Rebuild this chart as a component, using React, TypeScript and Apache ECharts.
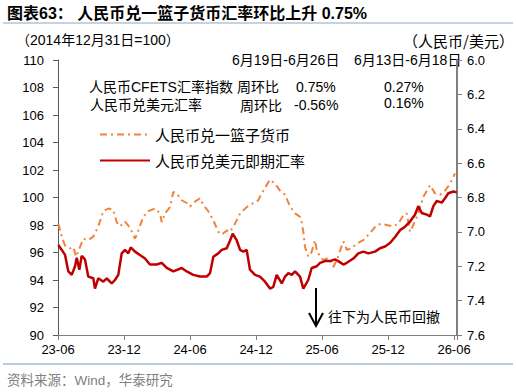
import React, { useEffect, useRef } from "react";
import * as echarts from "echarts";

// x positions are months since 2023-06-01
const xTickLabels = ["23-06", "23-12", "24-06", "24-12", "25-06", "25-12", "26-06"];

const basketT = [0.03,0.34,0.64,1.09,1.39,1.64,2.0,2.3,2.75,3.21,3.66,4.12,4.57,5.03,5.34,5.64,6.09,6.55,7.0,7.3,7.75,8.21,8.82,9.27,9.43,9.73,10.18,10.48,10.79,11.25,11.7,12.0,12.45,12.91,13.21,13.66,14.12,14.57,14.88,15.34,15.64,16.09,16.55,17.15,17.75,18.21,18.52,18.97,19.27,19.73,20.18,20.64,21.09,21.55,22.0,22.15,22.3,22.45,22.75,23.06,23.36,23.52,23.82,24.12,24.57,25.03,25.34,25.94,26.25,26.7,27.15,27.75,28.36,28.97,29.43,29.88,30.48,30.94,31.39,31.7,32.0,32.3,32.75,33.21,33.82,34.27,34.73,35.18,35.64,36.09];
const basketIdx = [98.1,97.15,96.5,96.3,96.4,95.7,96.4,97.0,96.9,97.15,97.9,99.0,99.2,99.1,98.2,97.9,98.25,97.8,97.0,97.6,98.6,99.0,99.2,98.85,98.2,98.85,99.3,100.4,100.3,99.8,99.6,99.35,99.7,99.95,99.45,99.0,98.35,97.5,97.3,97.6,97.5,98.1,98.85,99.3,99.6,99.8,100.3,100.9,101.3,101.0,100.5,100.2,99.35,98.85,98.6,98.2,97.5,96.4,95.7,96.05,96.9,96.2,95.7,95.45,95.6,94.95,95.45,96.8,96.2,96.3,96.65,96.9,97.4,98.0,98.1,98.0,97.9,98.1,98.7,98.85,97.5,98.0,98.85,100.05,100.9,100.3,100.2,100.5,101.0,101.75];

const usdT = [0.03,0.34,0.64,0.94,1.25,1.55,1.7,1.94,2.15,2.45,2.75,3.21,3.36,3.66,4.12,4.43,4.88,5.18,5.48,5.79,6.09,6.39,6.61,7.0,7.45,7.91,8.36,8.97,9.43,9.88,10.48,11.25,11.7,12.3,12.91,13.52,13.82,14.12,14.57,14.88,15.34,15.64,15.88,16.25,16.55,16.85,17.15,17.45,17.91,18.36,18.82,19.27,19.57,19.88,20.34,20.64,20.94,21.25,21.55,22.0,22.3,22.75,23.06,23.52,23.82,24.27,24.73,25.18,25.48,25.94,26.25,26.85,27.3,27.75,28.21,28.82,29.27,29.73,30.18,30.64,31.09,31.55,32.0,32.45,32.75,33.06,33.52,33.82,34.12,34.43,34.88,35.18,35.48,35.94,36.25];
const usdCny = [7.076,7.105,7.134,7.23,7.25,7.2,7.15,7.22,7.14,7.16,7.26,7.27,7.33,7.27,7.29,7.27,7.3,7.28,7.25,7.125,7.105,7.125,7.09,7.115,7.135,7.155,7.19,7.19,7.18,7.21,7.23,7.21,7.23,7.25,7.26,7.26,7.24,7.145,7.125,7.105,7.095,7.05,7.01,7.05,7.105,7.115,7.105,7.22,7.25,7.26,7.29,7.33,7.32,7.25,7.3,7.26,7.24,7.25,7.23,7.26,7.33,7.28,7.21,7.2,7.18,7.17,7.17,7.16,7.17,7.19,7.18,7.155,7.125,7.115,7.125,7.115,7.095,7.085,7.065,7.03,6.99,6.97,6.94,6.9,6.85,6.89,6.9,6.91,6.85,6.82,6.83,6.805,6.775,6.765,6.77];

const seriesNames = ["人民币兑一篮子货币", "人民币兑美元即期汇率"];
const periodLabels = ["6月19日-6月26日", "6月13日-6月18日"];
const rowLabels = ["人民币CFETS汇率指数", "人民币兑美元汇率"];
const rowMetric = "周环比";
const thisWeek = ["0.75%", "-0.56%"];
const lastWeek = ["0.27%", "0.16%"];

const FONT = "'Liberation Sans', 'Noto Sans CJK SC', sans-serif";
const CJK = "'Noto Sans CJK SC', 'Liberation Sans', sans-serif";

function txt(text: string, x: number, y: number, opts: any = {}) {
  return {
    type: "text",
    x,
    y,
    silent: true,
    style: {
      text,
      fill: opts.fill || "#000",
      fontSize: opts.fontSize || 13,
      fontFamily: opts.fontFamily || FONT,
      fontWeight: opts.fontWeight || "normal",
      align: opts.align || "left",
      verticalAlign: "middle",
    },
  };
}

export default function App() {
  const ref = useRef<HTMLDivElement>(null);
  useEffect(() => {
    if (!ref.current) return;
    const chart = echarts.init(ref.current, null, { renderer: "svg" });
    const basketData = basketT.map((t, i) => [t, basketIdx[i]]);
    const usdData = usdT.map((t, i) => [t, usdCny[i]]);
    chart.setOption({
      animation: false,
      backgroundColor: "#fff",
      grid: { left: 58, right: 59, top: 60, bottom: 57, containLabel: false },
      legend: {
        orient: "vertical",
        left: 94,
        top: 122,
        itemWidth: 50,
        itemHeight: 14,
        itemGap: 11,
        itemStyle: { opacity: 0 },
        textStyle: { fontSize: 15, fontFamily: CJK, color: "#000" },
        data: seriesNames,
      },
      xAxis: {
        type: "value",
        min: 0,
        max: 36.27,
        interval: 6,
        axisLine: { lineStyle: { color: "#7f7f7f", width: 1 } },
        axisTick: { length: 5, lineStyle: { color: "#7f7f7f" } },
        axisLabel: {
          fontSize: 13,
          fontFamily: FONT,
          color: "#000",
          margin: 8,
          formatter: (v: number) => {
            const k = Math.round(v / 6);
            return Math.abs(v - k * 6) < 1e-6 ? xTickLabels[k] || "" : "";
          },
        },
        splitLine: { show: false },
      },
      yAxis: [
        {
          type: "value",
          min: 90,
          max: 110,
          interval: 2,
          position: "left",
          axisLine: { show: true, lineStyle: { color: "#595959", width: 1 } },
          axisTick: { show: true, length: 5, lineStyle: { color: "#595959" } },
          axisLabel: { fontSize: 13, fontFamily: FONT, color: "#000", margin: 14 },
          splitLine: { show: false },
        },
        {
          type: "value",
          min: 6,
          max: 7.6,
          interval: 0.2,
          inverse: true,
          position: "right",
          axisLine: { show: true, lineStyle: { color: "#808080", width: 2 } },
          axisTick: { show: true, length: 5, lineStyle: { color: "#808080" } },
          axisLabel: {
            fontSize: 13,
            fontFamily: FONT,
            color: "#000",
            margin: 10,
            formatter: (v: number) => v.toFixed(1),
          },
          splitLine: { show: false },
        },
      ],
      series: [
        {
          name: seriesNames[0],
          type: "line",
          yAxisIndex: 0,
          data: basketData,
          symbol: "none",
          lineStyle: { color: "#F0843C", width: 2, type: [7, 4, 2, 4] },
          itemStyle: { color: "#F0843C" },
          z: 2,
        },
        {
          name: seriesNames[1],
          type: "line",
          yAxisIndex: 1,
          data: usdData,
          symbol: "none",
          lineStyle: { color: "#C00000", width: 2.5 },
          itemStyle: { color: "#C00000" },
          z: 3,
        },
      ],
      graphic: [
        txt("图表63： 人民币兑一篮子货币汇率环比上升 0.75%", 7, 13, { fontSize: 16, fontWeight: "bold" }),
        { type: "line", silent: true, shape: { x1: 3, y1: 23, x2: 513, y2: 23 }, style: { stroke: "#8FA6BF", lineWidth: 1 } },
        txt("（2014年12月31日=100）", 16, 40, { fontSize: 14 }),
        txt("（人民币/美元）", 514, 40, { fontSize: 15, align: "right", fontFamily: CJK }),
        txt(periodLabels[0], 232, 60, { fontSize: 14 }),
        txt(periodLabels[1], 354, 60, { fontSize: 14 }),
        txt(rowLabels[0], 89, 87, { fontSize: 14 }),
        txt(rowMetric, 237, 86, { fontSize: 14, fontFamily: CJK }),
        txt(thisWeek[0], 296, 87, { fontSize: 14 }),
        txt(lastWeek[0], 384, 87, { fontSize: 14 }),
        txt(rowLabels[1], 90, 104, { fontSize: 14, fontFamily: CJK }),
        txt(rowMetric, 240, 105, { fontSize: 14, fontFamily: CJK }),
        txt(thisWeek[1], 294, 105, { fontSize: 14 }),
        txt(lastWeek[1], 384, 103, { fontSize: 14 }),
        { type: "line", silent: true, shape: { x1: 316, y1: 288, x2: 316, y2: 324 }, style: { stroke: "#000", lineWidth: 2 } },
        { type: "polyline", silent: true, shape: { points: [[309, 313], [316, 326], [323, 313]] }, style: { stroke: "#000", lineWidth: 2, fill: null } },
        txt("往下为人民币回撤", 328, 316, { fontSize: 14, fontFamily: CJK }),
        { type: "line", silent: true, shape: { x1: 3, y1: 364, x2: 513, y2: 364 }, style: { stroke: "#A9BACC", lineWidth: 1.5 } },
        txt("资料来源：Wind，华泰研究", 7, 380, { fontSize: 13.5, fill: "#808080" }),
      ],
    });
    return () => chart.dispose();
  }, []);
  return (
    <div
      ref={ref}
      style={{ position: "fixed", left: 0, top: 0, width: 516, height: 392, background: "#fff" }}
    />
  );
}
